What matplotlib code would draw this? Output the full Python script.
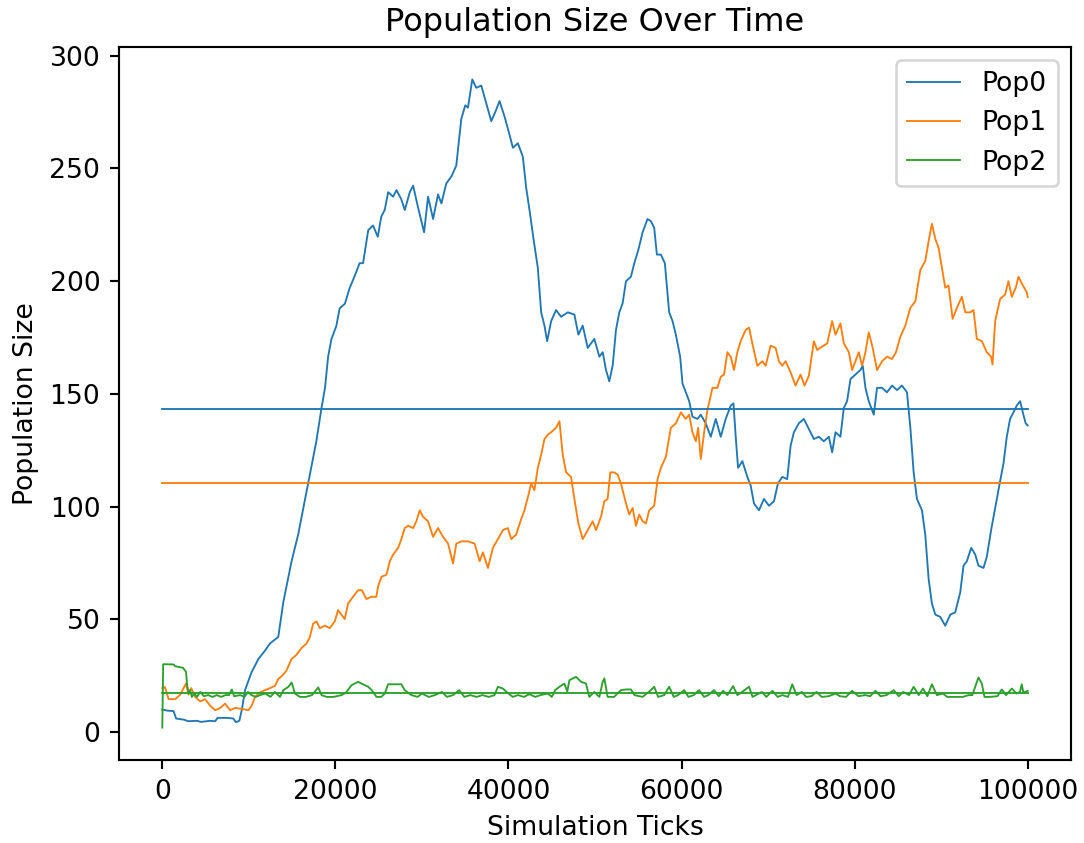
import numpy as np
import matplotlib
matplotlib.use("Agg")
import matplotlib.pyplot as plt

# values (tick, population)
pop0_ticks = [0, 600, 1300, 1600, 2500, 3000, 4000, 4500, 5500, 6100, 6400, 7500, 8200, 8500, 8900,
              9200, 9560, 10300, 11100, 11900, 12440, 13000, 13400, 14000, 14940, 15700, 16500, 17050,
              17800, 18400, 18800, 19160, 19550, 20100, 20500, 21100, 21650, 22200, 22800, 23200,
              23800, 24350, 24900, 25300, 25700, 26100, 26670, 27060, 27600, 28020, 28600, 28980,
              29560, 30250, 30710, 31290, 31860, 32250, 32820, 33400, 33970, 34550, 35010, 35320,
              35820, 36280, 36860, 37430, 38010, 38470, 38970, 39550, 40120, 40510, 41090, 41660,
              42050, 42430, 42930, 43390, 43780, 44160, 44470, 44930, 45500, 46080, 46850, 47620,
              48080, 48580, 49160, 49920, 50500, 50890, 51270, 51650, 52040, 52420, 52810, 53190,
              53580, 54150, 54540, 55000, 55500, 56070, 56460, 56840, 57150, 57610, 58070, 58570,
              58960, 59340, 59840, 60110, 60490, 60880, 61260, 61840, 62220, 62800, 63380, 63950,
              64530, 65100, 65680, 66000, 66260, 66530, 67030, 67600, 67990, 68370, 68950, 69520,
              70100, 70680, 71140, 71640, 72210, 72600, 72980, 73560, 74130, 74710, 75290, 75870,
              76440, 77020, 77400, 77790, 78360, 78750, 79130, 79520, 80090, 80670, 80940, 81250,
              81630, 82210, 82590, 83170, 83740, 84320, 84900, 85470, 86050, 86440, 86820, 87200,
              87780, 88160, 88550, 88930, 89320, 89890, 90470, 91050, 91620, 92200, 92580, 92970,
              93470, 93930, 94310, 94890, 95270, 95770, 96240, 96810, 97200, 97580, 97960, 98350,
              98730, 99120, 99500, 99770, 100000]
pop0_vals = [10, 9.5, 9.3, 6, 5.5, 4.8, 5, 4.5, 5, 4.8, 6.3, 6.3, 6, 4.4, 5,
             10, 18.6, 26.4, 32.4, 36.3, 39.3, 41, 42.2, 58, 75.8, 87.6, 103.4, 114.2,
             129, 143.8, 152.7, 166.5, 174.4, 180, 188, 190, 197, 202, 208, 208,
             222.7, 224.7, 219.7, 228.6, 231.6, 239.5, 237.5, 240.4, 236.5, 231.6, 239.5, 242.4,
             232.6, 221.7, 237.5, 227.6, 238.5, 234.5, 243.4, 246.4, 251.3, 272, 278, 277,
             289.5, 285.8, 286.8, 278.9, 271, 275, 279.9, 273, 265, 259.2, 261.2, 255.2,
             241.4, 231.6, 217.8, 206, 186.2, 180.3, 173.4, 182.3, 187.2, 184.2, 186.2, 185.2,
             176.3, 180.3, 170.4, 174.4, 166.5, 168.5, 160.6, 155.6, 162.5, 178.3, 186.2, 190.2,
             200, 202, 208, 213.8, 221.7, 227.6, 226.6, 223.7, 211.8, 211.8, 208, 186.2,
             182.3, 176.3, 166.5, 154.6, 150.7, 146.8, 139.9, 138.9, 140.8, 136.9, 131, 138.9,
             131, 138.9, 144.8, 145.8, 131, 117.2, 120.2, 113.2, 109.3, 101.4, 98.4, 103.4,
             100.4, 102.4, 110.3, 113.2, 112.2, 127, 133, 137, 138.9, 134.5, 130, 131,
             129, 131, 124.1, 133, 131, 143.8, 146.8, 156.6, 158.6, 160.6, 162.5, 152.7,
             146.8, 140.8, 152.7, 152.7, 150.7, 153.7, 151.7, 153.7, 150.7, 134.9, 115.2, 103.4,
             98.4, 87.6, 67.9, 57, 52.1, 51.1, 47.2, 52.1, 53.1, 61.9, 73.8, 75.8,
             81.7, 78.8, 73.8, 72.8, 77.7, 89.6, 99.4, 111.3, 119.1, 131, 138.9, 141.8,
             144.8, 146.8, 140.8, 136.9, 136]

pop1_ticks = [0, 300, 730, 1500, 2070, 2730, 3030, 3340, 3800, 4380, 4950, 5530, 6110, 6680, 7260,
              7830, 8410, 9180, 9950, 10330, 10710, 11290, 11870, 12440, 13020, 13400, 13980, 14360,
              14940, 15510, 16090, 16670, 17050, 17430, 17820, 18200, 18780, 19350, 19930, 20310,
              20700, 21080, 21470, 22040, 22620, 23080, 23580, 24150, 24730, 24950, 25330, 25900,
              26290, 26670, 27250, 27630, 28020, 28400, 28980, 29360, 29750, 30130, 30710, 31290,
              31860, 32440, 33020, 33590, 33980, 34550, 35320, 36090, 36670, 37050, 37630, 38200,
              38780, 39360, 39930, 40320, 40890, 41470, 41850, 42320, 42620, 43000, 43390, 43780,
              44160, 44550, 44930, 45500, 45890, 46270, 46660, 47230, 47620, 48080, 48580, 49160,
              49730, 50120, 50690, 51080, 51460, 51770, 52230, 52620, 53000, 53580, 53960, 54350,
              54730, 55110, 55500, 55880, 56270, 56840, 57230, 57610, 58190, 58760, 59340, 59920,
              60490, 60880, 61260, 61650, 61920, 62220, 62610, 62990, 63570, 64140, 64530, 64910,
              65300, 65680, 66060, 66450, 66830, 67410, 67800, 68180, 68760, 69330, 69720, 70290,
              70870, 71250, 71640, 72020, 72600, 73170, 73750, 74210, 74710, 75290, 75670, 76250,
              76830, 77400, 77790, 78360, 78750, 79330, 79710, 80090, 80480, 80860, 81250, 81630,
              82090, 82590, 83170, 83740, 84320, 84780, 85280, 85860, 86440, 87010, 87590, 88160,
              88550, 88930, 89320, 89700, 90090, 90470, 90850, 91320, 91820, 92390, 92780, 93350,
              93740, 94120, 94700, 95270, 95770, 95930, 96240, 96810, 97390, 97770, 98160, 98620,
              98930, 99310, 99890, 100000]
pop1_vals = [19.5, 20, 14.6, 14.6, 16.6, 21.5, 16.6, 19.5, 15.6, 13.6, 14.6, 11.7, 9.7, 10.7, 12.6,
             9.7, 10.7, 10.3, 9.7, 11.7, 15.6, 17.6, 18.6, 19.5, 20.5, 23.5, 25.5, 27.4,
             32.4, 34.3, 37.3, 39.3, 42.2, 48.1, 49.1, 46.1, 47.2, 46.1, 49.1, 54.1,
             52.1, 50.1, 57, 60, 62.9, 62.9, 59, 60, 60, 64.9, 68.9, 69.8,
             75.8, 78.7, 81.7, 85.6, 90.5, 91.5, 90.5, 93.5, 98.4, 95.5, 93.5, 86.6,
             90.5, 86.6, 83.6, 74.8, 83.6, 84.6, 84.6, 83.6, 75.8, 79.7, 72.8, 81.7,
             85.6, 89.6, 90.5, 85.6, 87.6, 94.5, 98.4, 105.3, 110.3, 107.3, 117.2, 123.1,
             130, 132, 133, 135, 137.9, 123.1, 115.2, 113.2, 103.4, 92.5, 85.6, 89.6,
             93.5, 89.6, 95.5, 102.4, 103.4, 115.2, 115.2, 114.2, 110.3, 101.4, 96.5, 99.4,
             91.5, 96.5, 93.5, 92.5, 98.4, 100.4, 112.2, 117.2, 122.1, 135, 136.9, 141.8,
             138.9, 140.8, 133, 129, 135, 121.1, 133, 142.8, 152.7, 152.7, 157.6, 158.6,
             168.5, 166.5, 160.6, 168.5, 173.4, 178.4, 179.4, 172.4, 162.5, 164.5, 162.5, 171.4,
             170.4, 164.5, 162.5, 164.5, 159.6, 153.7, 158.6, 153.7, 158, 173.4, 169.5, 171,
             172.4, 182.3, 176.3, 181.3, 172.4, 168.5, 160.6, 164.5, 168.5, 162.5, 168.5, 177.3,
             170.4, 160.6, 164.5, 166.5, 165.5, 168.5, 175.4, 180.3, 188.2, 191.1, 205, 208.9,
             217.8, 225.5, 218.8, 214.8, 205.9, 197.1, 198.1, 183.3, 188.2, 193.1, 186.2, 186.2,
             187.2, 174.4, 173.4, 168.5, 166.5, 163, 182.3, 192.1, 194.1, 200, 193.1, 197.1,
             202, 199, 195.1, 193]

pop2_ticks = [0, 100, 1300, 1500, 2400, 2600, 2750, 2850, 3040, 3200, 3420, 3700, 4000, 4400, 4800,
              5300, 5800, 6300, 6800, 7300, 7700, 8030, 8300, 9000, 9500, 9900, 10300, 10800,
              11300, 11900, 12500, 13000, 13600, 14000, 14570, 14950, 15330, 15900, 16600, 17300,
              18020, 18400, 19000, 19800, 20710, 21200, 21870, 22630, 23020, 23790, 24200, 24750,
              25300, 25710, 26090, 27630, 28010, 28780, 29500, 30000, 30800, 31500, 32300, 32900,
              33600, 34300, 34900, 35600, 36300, 37000, 37700, 38390, 38780, 39350, 39900, 40500,
              41100, 41800, 42400, 43100, 43700, 44540, 45000, 45400, 45890, 46460, 46800, 47040,
              47810, 48380, 48960, 49340, 49930, 50500, 50890, 51080, 51460, 52200, 53000, 53580,
              54150, 54550, 55500, 56460, 56840, 57300, 58000, 58570, 59100, 59600, 60300, 60800,
              61400, 62030, 62600, 63100, 63760, 64300, 64800, 65300, 65950, 66450, 67000, 67800,
              68200, 68600, 69300, 69800, 70500, 71100, 71650, 72300, 72790, 73300, 73900, 74400,
              75000, 75600, 76200, 77000, 77800, 78300, 79000, 79710, 80450, 81200, 81800, 82400,
              83000, 83700, 84510, 85100, 85600, 86300, 86820, 87400, 87900, 88400, 88930, 89500,
              90200, 90700, 91500, 92500, 93200, 93600, 93930, 94310, 94700, 95000, 95600, 96500,
              97000, 97500, 98160, 98700, 99100, 99310, 99500, 100000]
pop2_vals = [2, 30.1, 30, 29.2, 28.5, 27.4, 26.7, 21.5, 17.1, 18.6, 15.6, 17.1, 15.6, 17.8, 15.9,
             16.4, 15.6, 16.4, 15.6, 16.4, 16.4, 18.9, 15.9, 16.4, 15.6, 17.8, 16.4, 15.6,
             16.4, 17.1, 15.6, 17.8, 15.6, 18.6, 20.1, 22, 17.1, 15.6, 15.6, 16.4,
             19.8, 16.4, 15.6, 15.6, 16.4, 17.4, 20.8, 22.3, 21.5, 20.1, 18.6, 15.6,
             15.6, 17.1, 21.2, 21.2, 18.6, 16.4, 15.6, 17.1, 15.6, 16.4, 17.8, 15.6,
             16.4, 18.6, 15.6, 16.4, 15.6, 16.4, 15.6, 16.4, 20.1, 19.3, 17.4, 15.6,
             16.4, 15.6, 16.8, 15.6, 16.4, 17.1, 15.6, 18.6, 20.1, 21.5, 18, 23,
             24.5, 22.3, 21.5, 15.6, 17.8, 15.6, 22.3, 23.8, 15.6, 15.6, 18.6, 18.9,
             18.9, 16.4, 15.6, 18.6, 20.1, 15.6, 16.4, 20.1, 15.6, 16.4, 18.6, 15.6,
             16.4, 18.6, 15.6, 16.4, 18.6, 15.9, 18.3, 16.4, 20.4, 16.4, 17.8, 20.1,
             15.6, 16.4, 17.8, 15.6, 18.3, 15.6, 16.4, 15.6, 21.2, 16.4, 17.8, 15.6,
             15.9, 17.8, 15.6, 15.9, 17.1, 15.9, 15.6, 18.3, 15.9, 16.4, 15.9, 18.3,
             15.9, 16.4, 18.6, 15.9, 17.8, 16.4, 20.1, 16.4, 19.3, 15.9, 21.2, 16.4,
             17.1, 15.6, 15.6, 15.6, 16.4, 16.4, 20.1, 24.2, 21.5, 15.6, 15.6, 15.9,
             18.9, 16.4, 19.3, 17.1, 17.8, 21.2, 17.4, 18.3]

# average population of each run (flat lines)
pop_means = [143.5, 110.3, 17.3]
labels = ["Pop0", "Pop1", "Pop2"]
colors = ["tab:blue", "tab:orange", "tab:green"]

DPI = 192
fig = plt.figure(figsize=(1084 / DPI, 843 / DPI), dpi=DPI)
ax = fig.add_subplot(111)
fig.subplots_adjust(left=0.1098, right=0.988, top=0.9442, bottom=0.0985)

series = [(pop0_ticks, pop0_vals), (pop1_ticks, pop1_vals), (pop2_ticks, pop2_vals)]
for (t, v), lab, c in zip(series, labels, colors):
    ax.plot(t, v, color=c, lw=0.7, label=lab)
for m, c in zip(pop_means, colors):
    ax.plot([0, 100000], [m, m], color=c, lw=0.7)

ax.set_title("Population Size Over Time")
ax.set_xlabel("Simulation Ticks")
ax.set_ylabel("Population Size")
ax.legend(loc="upper right")

fig.savefig("out.png", dpi=DPI)
